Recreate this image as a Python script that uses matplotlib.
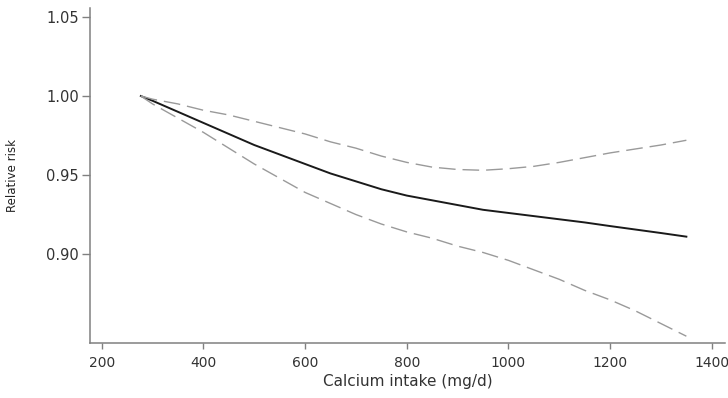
import matplotlib
matplotlib.use("Agg")
import matplotlib.pyplot as plt

# Dose-response of calcium intake vs relative risk (estimate and 95% CI)
calcium = [277, 300, 350, 400, 450, 500, 550, 600, 650, 700, 750, 800, 850,
           900, 950, 1000, 1050, 1100, 1150, 1200, 1250, 1300, 1350]
rr = [1.000, 0.997, 0.990, 0.983, 0.976, 0.969, 0.963, 0.957, 0.951, 0.946,
      0.941, 0.937, 0.934, 0.931, 0.928, 0.926, 0.924, 0.922, 0.920, 0.9177,
      0.9155, 0.9133, 0.911]
rr_upper = [1.000, 0.998, 0.995, 0.991, 0.988, 0.984, 0.980, 0.976, 0.971, 0.967,
            0.962, 0.958, 0.955, 0.9535, 0.953, 0.954, 0.9555, 0.958, 0.961, 0.964,
            0.9665, 0.969, 0.972]
rr_lower = [1.000, 0.995, 0.986, 0.977, 0.967, 0.957, 0.948, 0.939, 0.932, 0.925,
            0.919, 0.914, 0.910, 0.905, 0.901, 0.896, 0.890, 0.884, 0.877, 0.871,
            0.864, 0.856, 0.848]

x_ticks = [200, 400, 600, 800, 1000, 1200, 1400]
y_ticks = [0.90, 0.95, 1.00, 1.05]

fig = plt.figure(figsize=(7.28, 3.98), dpi=100)
ax = fig.add_axes([90 / 728, 1 - 343 / 398, 635 / 728, 335 / 398])

ax.plot(calcium, rr, color="#1a1a1a", linewidth=1.4)
ax.plot(calcium, rr_upper, color="#9a9a9a", linewidth=1.0, dashes=(12, 5))
ax.plot(calcium, rr_lower, color="#9a9a9a", linewidth=1.0, dashes=(12, 5))

ax.set_xlim(177, 1426)
ax.set_ylim(0.8437, 1.0557)
ax.set_xticks(x_ticks)
ax.set_yticks(y_ticks)
ax.set_yticklabels([f"{v:.2f}" for v in y_ticks])

for side in ("top", "right"):
    ax.spines[side].set_visible(False)
for side in ("left", "bottom"):
    ax.spines[side].set_color("#808080")
    ax.spines[side].set_linewidth(1.1)

ax.tick_params(axis="y", direction="out", length=6, width=1, color="#808080",
               labelsize=10.5, labelcolor="#333333", pad=2)
ax.tick_params(axis="x", direction="out", length=4.5, width=1, color="#808080",
               labelsize=10, labelcolor="#333333", pad=5)

ax.set_xlabel("Calcium intake (mg/d)", fontsize=11, color="#333333", labelpad=3)
ax.set_ylabel("Relative risk", fontsize=8.5, color="#222222")
ax.yaxis.set_label_coords(-0.112, 0.5)

fig.savefig("out.png", dpi=100)
